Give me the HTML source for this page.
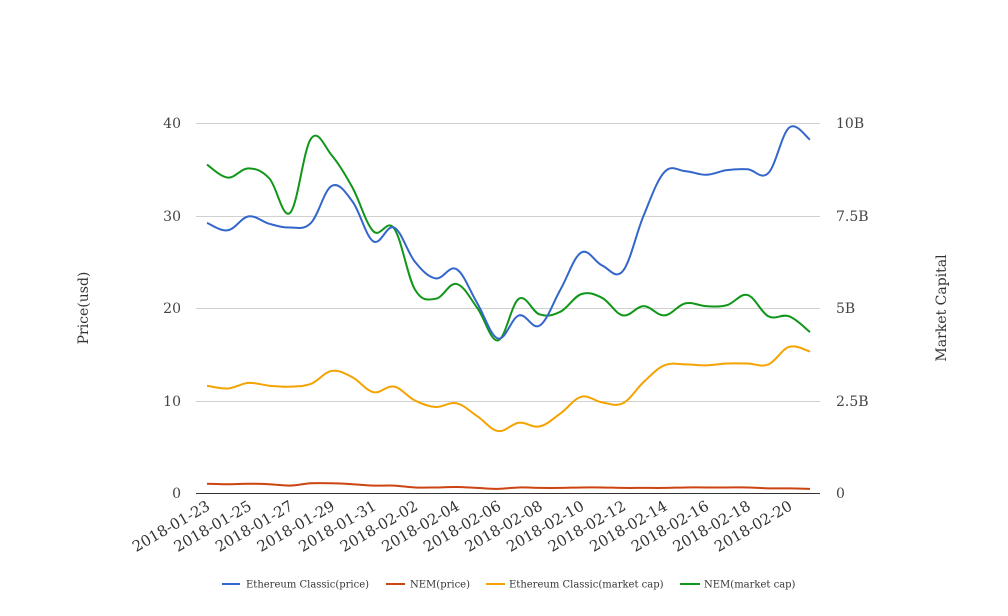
<!DOCTYPE html>
<html><head><meta charset="utf-8"><style>
html,body{margin:0;padding:0;background:#fff;}
svg{display:block;font-family:"DejaVu Serif","Liberation Serif",serif;}
</style></head><body>
<svg id="s" width="1008" height="616" viewBox="0 0 1008 616">
<g stroke="#d0d0d0" stroke-width="1">
<line x1="196" x2="820" y1="123.5" y2="123.5"/>
<line x1="196" x2="820" y1="216.5" y2="216.5"/>
<line x1="196" x2="820" y1="308.5" y2="308.5"/>
<line x1="196" x2="820" y1="401.5" y2="401.5"/>
</g>
<line x1="196" x2="820" y1="493.5" y2="493.5" stroke="#333" stroke-width="1"/>
<g font-size="14" fill="#444" text-anchor="end">
<text x="181" y="128">40</text><text x="181" y="221">30</text><text x="181" y="313">20</text><text x="181" y="406">10</text><text x="181" y="498">0</text>
</g>
<g font-size="14" fill="#444">
<text x="836" y="128">10B</text><text x="836" y="221">7.5B</text><text x="836" y="313">5B</text><text x="836" y="406">2.5B</text><text x="836" y="498">0</text>
</g>
<text font-size="14" fill="#333" text-anchor="middle" transform="translate(88,308) rotate(-90)">Price(usd)</text>
<text font-size="14" fill="#333" text-anchor="middle" transform="translate(946,308) rotate(-90)">Market Capital</text>
<g id="xl" font-size="15" fill="#333" text-anchor="end"></g>
<g id="lines" fill="none" stroke-width="2"></g>
<g font-size="10" fill="#333">
<line x1="222" x2="240" y1="584" y2="584" stroke="#3366cc" stroke-width="2"/><text x="246" y="587.5">Ethereum Classic(price)</text>
<line x1="386" x2="405" y1="584" y2="584" stroke="#cc4411" stroke-width="2"/><text x="410" y="587.5">NEM(price)</text>
<line x1="486" x2="505" y1="584" y2="584" stroke="#f4a300" stroke-width="2"/><text x="509" y="587.5">Ethereum Classic(market cap)</text>
<line x1="680" x2="700" y1="584" y2="584" stroke="#109618" stroke-width="2"/><text x="704" y="587.5">NEM(market cap)</text>
</g>
</svg>
<script>
var NS="http://www.w3.org/2000/svg";
function X(i){return 207+i*(603/29);}
function Y(v){return 493-9.25*v;}
var data=[
["#f4a300",[11.6,11.3,11.9,11.6,11.5,11.8,13.2,12.5,10.9,11.5,10,9.3,9.7,8.3,6.7,7.6,7.2,8.6,10.4,9.8,9.7,12,13.8,13.9,13.8,14,14,13.9,15.8,15.3]],
["#cc4411",[1,0.95,1,0.95,0.8,1.05,1.05,0.95,0.8,0.8,0.6,0.6,0.65,0.55,0.45,0.6,0.55,0.55,0.6,0.6,0.55,0.55,0.55,0.6,0.6,0.6,0.6,0.5,0.5,0.45]],
["#109618",[35.5,34.1,35.1,34,30.3,38.3,36.5,33,28.3,28.6,22,21,22.6,20,16.5,21,19.3,19.6,21.5,21.1,19.2,20.2,19.2,20.5,20.2,20.3,21.4,19.1,19.1,17.4]],
["#3366cc",[29.2,28.4,29.9,29.1,28.7,29.2,33.2,31.5,27.2,28.7,25,23.2,24.2,20.5,16.7,19.2,18.1,22,26,24.6,24,30,34.7,34.8,34.4,34.9,35,34.6,39.5,38.2]]
];
var g=document.getElementById("lines");
data.forEach(function(d){
 var v=d[1],p=v.map(function(y,i){return [X(i),Y(y)];}),s="M"+p[0][0]+","+p[0][1],t=0.18;
 for(var i=0;i<p.length-1;i++){
  var p0=p[Math.max(i-1,0)],p1=p[i],p2=p[i+1],p3=p[Math.min(i+2,p.length-1)];
  var c1=[p1[0]+(p2[0]-p0[0])*t,p1[1]+(p2[1]-p0[1])*t],c2=[p2[0]-(p3[0]-p1[0])*t,p2[1]-(p3[1]-p1[1])*t];
  s+=" C"+c1+" "+c2+" "+p2;
 }
 var e=document.createElementNS(NS,"path");e.setAttribute("d",s);e.setAttribute("stroke",d[0]);g.appendChild(e);
});
var xl=document.getElementById("xl");
var dates=["2018-01-23","2018-01-25","2018-01-27","2018-01-29","2018-01-31","2018-02-02","2018-02-04","2018-02-06","2018-02-08","2018-02-10","2018-02-12","2018-02-14","2018-02-16","2018-02-18","2018-02-20"];
dates.forEach(function(t,k){
 var x=X(2*k)+4,y=509;
 var e=document.createElementNS(NS,"text");e.setAttribute("transform","translate("+x+","+y+") rotate(-30)");e.textContent=t;xl.appendChild(e);
});
</script>
</body></html>
